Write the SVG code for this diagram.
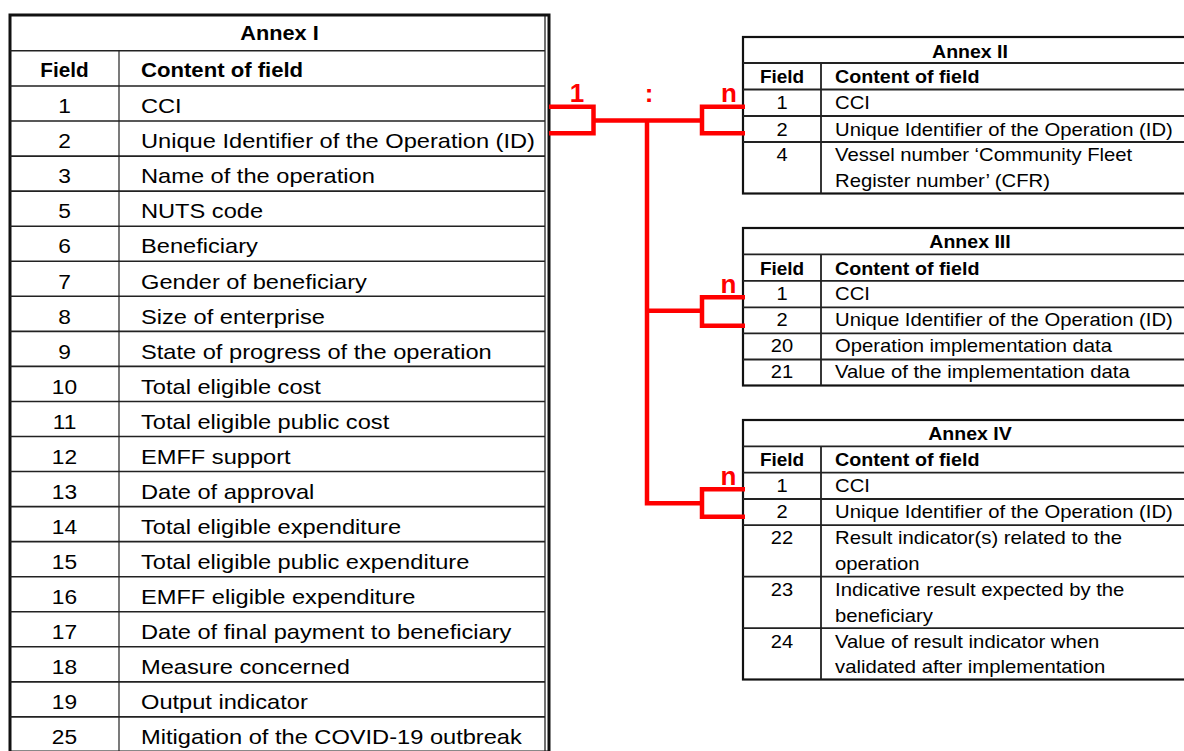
<svg xmlns="http://www.w3.org/2000/svg" width="1184" height="751" viewBox="0 0 1184 751">
<style>
.txt{font-family:"Liberation Sans",Arial,sans-serif;fill:#000}
.a1{font-size:20.3px}
.a2{font-size:18.6px}
.b{font-weight:bold}
.mid{text-anchor:middle}
.grid{stroke:#222;fill:none}
.conn{stroke:#ff0000;stroke-width:4.5;fill:none;stroke-linejoin:miter;stroke-linecap:butt}
.lbl{font-family:"Liberation Sans",Arial,sans-serif;font-weight:bold;font-size:26px;fill:#ff0000;text-anchor:middle}
</style>
<rect x="0" y="0" width="1184" height="751" fill="#fff"/>

<g id="annex1">
  <rect x="10" y="15" width="539" height="737" fill="#fff" stroke="#111" stroke-width="3"/>
  <line x1="545" y1="15" x2="545" y2="752" stroke="#111" stroke-width="1.2"/>
  <path class="grid" stroke-width="1.6" d="M10,50.7H545 M10,86H545 M10,121.05H545 M10,156.1H545 M10,191.15H545 M10,226.2H545 M10,261.25H545 M10,296.3H545 M10,331.35H545 M10,366.4H545 M10,401.45H545 M10,436.5H545 M10,471.55H545 M10,506.6H545 M10,541.65H545 M10,576.7H545 M10,611.75H545 M10,646.8H545 M10,681.85H545 M10,716.9H545"/>
  <line class="grid" x1="119" y1="50.7" x2="119" y2="752" stroke-width="1.2"/>
  <text class="txt a1 b mid" transform="translate(279.5,40) scale(1.07,1)">Annex I</text>
  <text class="txt a1 b mid" transform="translate(64.5,76.5) scale(1.02,1)">Field</text>
  <text class="txt a1 b" transform="translate(141,76.5) scale(1.09,1)">Content of field</text>
  <g class="txt a1 mid" transform="translate(64.5,0) scale(1.12,1)">
    <text x="0" y="113.3">1</text>
    <text x="0" y="148.35">2</text>
    <text x="0" y="183.4">3</text>
    <text x="0" y="218.45">5</text>
    <text x="0" y="253.5">6</text>
    <text x="0" y="288.55">7</text>
    <text x="0" y="323.6">8</text>
    <text x="0" y="358.65">9</text>
    <text x="0" y="393.7">10</text>
    <text x="0" y="428.75">11</text>
    <text x="0" y="463.8">12</text>
    <text x="0" y="498.85">13</text>
    <text x="0" y="533.9">14</text>
    <text x="0" y="568.95">15</text>
    <text x="0" y="604">16</text>
    <text x="0" y="639.05">17</text>
    <text x="0" y="674.1">18</text>
    <text x="0" y="709.15">19</text>
    <text x="0" y="744.2">25</text>
  </g>
  <g class="txt a1" transform="translate(141,0) scale(1.165,1)">
    <text x="0" y="113.3">CCI</text>
    <text x="0" y="148.35">Unique Identifier of the Operation (ID)</text>
    <text x="0" y="183.4">Name of the operation</text>
    <text x="0" y="218.45">NUTS code</text>
    <text x="0" y="253.5">Beneficiary</text>
    <text x="0" y="288.55">Gender of beneficiary</text>
    <text x="0" y="323.6">Size of enterprise</text>
    <text x="0" y="358.65">State of progress of the operation</text>
    <text x="0" y="393.7">Total eligible cost</text>
    <text x="0" y="428.75">Total eligible public cost</text>
    <text x="0" y="463.8">EMFF support</text>
    <text x="0" y="498.85">Date of approval</text>
    <text x="0" y="533.9">Total eligible expenditure</text>
    <text x="0" y="568.95">Total eligible public expenditure</text>
    <text x="0" y="604">EMFF eligible expenditure</text>
    <text x="0" y="639.05">Date of final payment to beneficiary</text>
    <text x="0" y="674.1">Measure concerned</text>
    <text x="0" y="709.15">Output indicator</text>
    <text x="0" y="744.2">Mitigation of the COVID-19 outbreak</text>
  </g>
</g>

<g id="annex2">
  <rect x="743" y="37" width="454" height="156.5" fill="#fff" stroke="#111" stroke-width="2.2"/>
  <path class="grid" stroke-width="1.8" d="M743,63H1197 M743,89.5H1197 M743,116H1197 M743,142H1197 M821,63V193.5"/>
  <text class="txt a2 b mid" transform="translate(970,57.5) scale(1.05,1)">Annex II</text>
  <text class="txt a2 b mid" transform="translate(782,83) scale(1.02,1)">Field</text>
  <text class="txt a2 b" transform="translate(835,83) scale(1.06,1)">Content of field</text>
  <g class="txt a2 mid" transform="translate(782,0) scale(1.08,1)">
    <text x="0" y="109.5">1</text>
    <text x="0" y="136">2</text>
    <text x="0" y="161">4</text>
  </g>
  <g class="txt a2" transform="translate(835,0) scale(1.09,1)">
    <text x="0" y="109.5">CCI</text>
    <text x="0" y="136">Unique Identifier of the Operation (ID)</text>
    <text x="0" y="161">Vessel number ‘Community Fleet</text>
    <text x="0" y="187">Register number’ (CFR)</text>
  </g>
</g>

<g id="annex3">
  <rect x="743" y="228" width="454" height="157.5" fill="#fff" stroke="#111" stroke-width="2.2"/>
  <path class="grid" stroke-width="1.8" d="M743,254.3H1197 M743,280.8H1197 M743,307.3H1197 M743,333.3H1197 M743,359.5H1197 M821,254.3V385.5"/>
  <text class="txt a2 b mid" transform="translate(970,248) scale(1.05,1)">Annex III</text>
  <text class="txt a2 b mid" transform="translate(782,274.5) scale(1.02,1)">Field</text>
  <text class="txt a2 b" transform="translate(835,274.5) scale(1.06,1)">Content of field</text>
  <g class="txt a2 mid" transform="translate(782,0) scale(1.08,1)">
    <text x="0" y="300.5">1</text>
    <text x="0" y="326.5">2</text>
    <text x="0" y="352.5">20</text>
    <text x="0" y="378.5">21</text>
  </g>
  <g class="txt a2" transform="translate(835,0) scale(1.09,1)">
    <text x="0" y="300.5">CCI</text>
    <text x="0" y="326.5">Unique Identifier of the Operation (ID)</text>
    <text x="0" y="352.5">Operation implementation data</text>
    <text x="0" y="378.5">Value of the implementation data</text>
  </g>
</g>

<g id="annex4">
  <rect x="743" y="420" width="454" height="259.5" fill="#fff" stroke="#111" stroke-width="2.2"/>
  <path class="grid" stroke-width="1.8" d="M743,446.3H1197 M743,472.7H1197 M743,499H1197 M743,525.2H1197 M743,576.6H1197 M743,628.2H1197 M821,446.3V679.5"/>
  <text class="txt a2 b mid" transform="translate(970,440) scale(1.05,1)">Annex IV</text>
  <text class="txt a2 b mid" transform="translate(782,466) scale(1.02,1)">Field</text>
  <text class="txt a2 b" transform="translate(835,466) scale(1.06,1)">Content of field</text>
  <g class="txt a2 mid" transform="translate(782,0) scale(1.08,1)">
    <text x="0" y="492">1</text>
    <text x="0" y="518">2</text>
    <text x="0" y="544">22</text>
    <text x="0" y="596">23</text>
    <text x="0" y="648">24</text>
  </g>
  <g class="txt a2" transform="translate(835,0) scale(1.09,1)">
    <text x="0" y="492">CCI</text>
    <text x="0" y="518">Unique Identifier of the Operation (ID)</text>
    <text x="0" y="544">Result indicator(s) related to the</text>
    <text x="0" y="570">operation</text>
    <text x="0" y="596">Indicative result expected by the</text>
    <text x="0" y="622">beneficiary</text>
    <text x="0" y="648">Value of result indicator when</text>
    <text x="0" y="673.5">validated after implementation</text>
  </g>
</g>

<g id="connectors">
  <path class="conn" d="M549,106.7H593.5V133.3H549"/>
  <path class="conn" d="M593.5,120.5H702"/>
  <path class="conn" d="M745,106.7H702V133.3H745"/>
  <path class="conn" d="M647,120.5V503.3H702"/>
  <path class="conn" d="M647,310.7H702"/>
  <path class="conn" d="M745,297.3H702V325.7H745"/>
  <path class="conn" d="M745,489.3H702V516.7H745"/>
  <text class="lbl" x="577" y="101.7">1</text>
  <text class="lbl" x="649" y="101.7">:</text>
  <text class="lbl" x="729" y="102">n</text>
  <text class="lbl" x="728.5" y="293">n</text>
  <text class="lbl" x="728.5" y="484.5">n</text>
</g>
</svg>
